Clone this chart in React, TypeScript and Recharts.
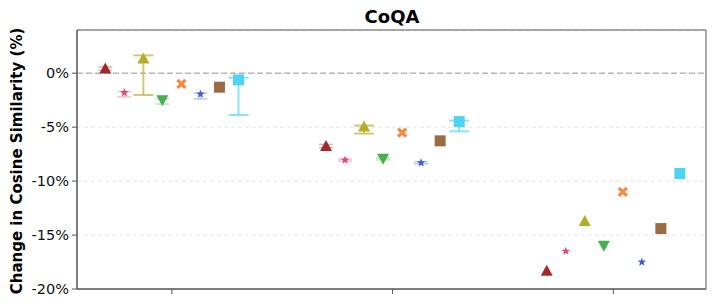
import React from 'react';
import {
  ScatterChart,
  Scatter,
  XAxis,
  YAxis,
  CartesianGrid,
  ReferenceLine,
  ReferenceArea,
  ErrorBar,
} from 'recharts';

// three datasets along x (no labels), eight methods per group
const groups = [0, 1, 2];
const yTicks = [-20, -15, -10, -5, 0];

const darkRed = [0.43, -6.75, -18.3];
const pinkStar = [-1.8, -8.05, -16.5];
const olive = [1.35, -4.95, -13.7];
const green = [-2.5, -7.93, -16.0];
const orange = [-1.0, -5.5, -11.0];
const blueStar = [-1.94, -8.3, -17.5];
const brown = [-1.3, -6.27, -14.4];
const cyan = [-0.62, -4.49, -9.3];

// [below, above] error per group, null = none drawn
const darkRedErr = [[0.15, 0.15], [0.15, 0.15], null];
const pinkStarErr = [[0.4, 0.1], [0.1, 0.1], null];
const oliveErr = [[3.37, 0.3], [0.65, 0.1], null];
const greenErr = [[0.36, 0.1], [0.1, 0.1], null];
const orangeErr = [null, null, null];
const blueStarErr = [[0.45, 0.1], [0.1, 0.1], null];
const brownErr = [null, null, null];
const cyanErr = [[3.25, 0.2], [0.9, 0.1], null];

type Kind = 'tri' | 'star' | 'down' | 'x' | 'square';

const series: { name: string; values: number[]; errs: (number[] | null)[]; color: string; kind: Kind }[] = [
  { name: 'darkRed', values: darkRed, errs: darkRedErr, color: '#a3282c', kind: 'tri' },
  { name: 'pinkStar', values: pinkStar, errs: pinkStarErr, color: '#e0457b', kind: 'star' },
  { name: 'olive', values: olive, errs: oliveErr, color: '#b3ad2a', kind: 'tri' },
  { name: 'green', values: green, errs: greenErr, color: '#45b04f', kind: 'down' },
  { name: 'orange', values: orange, errs: orangeErr, color: '#f7883d', kind: 'x' },
  { name: 'blueStar', values: blueStar, errs: blueStarErr, color: '#3f5fd6', kind: 'star' },
  { name: 'brown', values: brown, errs: brownErr, color: '#9b6b44', kind: 'square' },
  { name: 'cyan', values: cyan, errs: cyanErr, color: '#4fd3f2', kind: 'square' },
];

const SPREAD = 0.0862;

function starPath(cx: number, cy: number, r: number) {
  const pts: string[] = [];
  for (let i = 0; i < 10; i++) {
    const rr = i % 2 === 0 ? r : r * 0.42;
    const a = -Math.PI / 2 + (i * Math.PI) / 5;
    pts.push(`${cx + rr * Math.cos(a)},${cy + rr * Math.sin(a)}`);
  }
  return `M${pts.join('L')}Z`;
}

function Marker({ cx, cy, kind, color }: { cx: number; cy: number; kind: Kind; color: string }) {
  if (cx == null || cy == null) return <g />;
  switch (kind) {
    case 'tri':
      return <path d={`M${cx},${cy - 6}L${cx + 6},${cy + 5}L${cx - 6},${cy + 5}Z`} fill={color} />;
    case 'down':
      return <path d={`M${cx},${cy + 6}L${cx + 6},${cy - 5}L${cx - 6},${cy - 5}Z`} fill={color} />;
    case 'star':
      return <path d={starPath(cx, cy, 4.5)} fill={color} />;
    case 'x':
      return (
        <g stroke={color} strokeWidth={3.2} strokeLinecap="butt">
          <line x1={cx - 4} y1={cy - 4} x2={cx + 4} y2={cy + 4} />
          <line x1={cx - 4} y1={cy + 4} x2={cx + 4} y2={cy - 4} />
        </g>
      );
    default:
      return <rect x={cx - 5.5} y={cy - 5.5} width={11} height={11} fill={color} />;
  }
}

export default function App() {
  const W = 717;
  const H = 308;

  return (
    <div style={{ position: 'absolute', left: 0, top: 0, width: W, height: H, background: '#fff', fontFamily: 'DejaVu Sans' }}>
      <ScatterChart width={W} height={H} margin={{ top: 30, right: 11, bottom: 0, left: 0 }}>
        <CartesianGrid vertical={false} strokeDasharray="4 3" stroke="#e4e4e4" />
        <XAxis
          type="number"
          dataKey="x"
          domain={[-0.43, 2.42]}
          ticks={groups}
          tickFormatter={() => ''}
          tickSize={5}
          height={19}
          stroke="#555"
          allowDataOverflow
        />
        <YAxis
          type="number"
          dataKey="y"
          domain={[-20, 4]}
          ticks={yTicks}
          tickFormatter={(v: number) => `${v}%`}
          tickSize={5}
          tickMargin={3}
          width={77}
          stroke="#555"
          tick={{ fill: '#111', fontSize: 14.5, fontFamily: 'DejaVu Sans' }}
          allowDataOverflow
        />
        <ReferenceLine y={0} stroke="#999" strokeDasharray="6 3" strokeWidth={1} />
        <ReferenceArea x1={-0.43} x2={2.42} y1={-20} y2={4} fill="none" stroke="#555" strokeWidth={1} />
        {series.map((s, i) => {
          const data = groups
            .map((g) => ({ x: g + (i - 3.5) * SPREAD, y: s.values[g], err: s.errs[g] }))
            .filter((d) => d.err != null);
          if (!data.length) return null;
          const big = s.name === 'olive' || s.name === 'cyan';
          return (
            <Scatter key={`err-${s.name}`} data={data} shape={() => <g />} isAnimationActive={false}>
              <ErrorBar
                dataKey="err"
                direction="y"
                width={big ? 10 : 7}
                stroke={s.color}
                strokeOpacity={big ? 0.65 : 0.35}
                strokeWidth={big ? 2 : 1.5}
              />
            </Scatter>
          );
        })}
        {series.map((s, i) => (
          <Scatter
            key={s.name}
            name={s.name}
            data={groups.map((g) => ({ x: g + (i - 3.5) * SPREAD, y: s.values[g] }))}
            isAnimationActive={false}
            shape={(p: any) => <Marker cx={p.cx} cy={p.cy} kind={s.kind} color={s.color} />}
          />
        ))}
      </ScatterChart>
      <svg width={W} height={H} style={{ position: 'absolute', left: 0, top: 0, pointerEvents: 'none' }}>
        <text x={392} y={23} textAnchor="middle" fontSize={18} fontWeight="bold" fontFamily="DejaVu Sans" fill="#000">
          CoQA
        </text>
        <text
          x={0}
          y={0}
          transform="translate(22,161) rotate(-90)"
          textAnchor="middle"
          fontSize={15}
          fontWeight="bold"
          fontFamily="DejaVu Sans"
          fill="#000"
        >
          Change in Cosine Similarity (%)
        </text>
      </svg>
    </div>
  );
}
